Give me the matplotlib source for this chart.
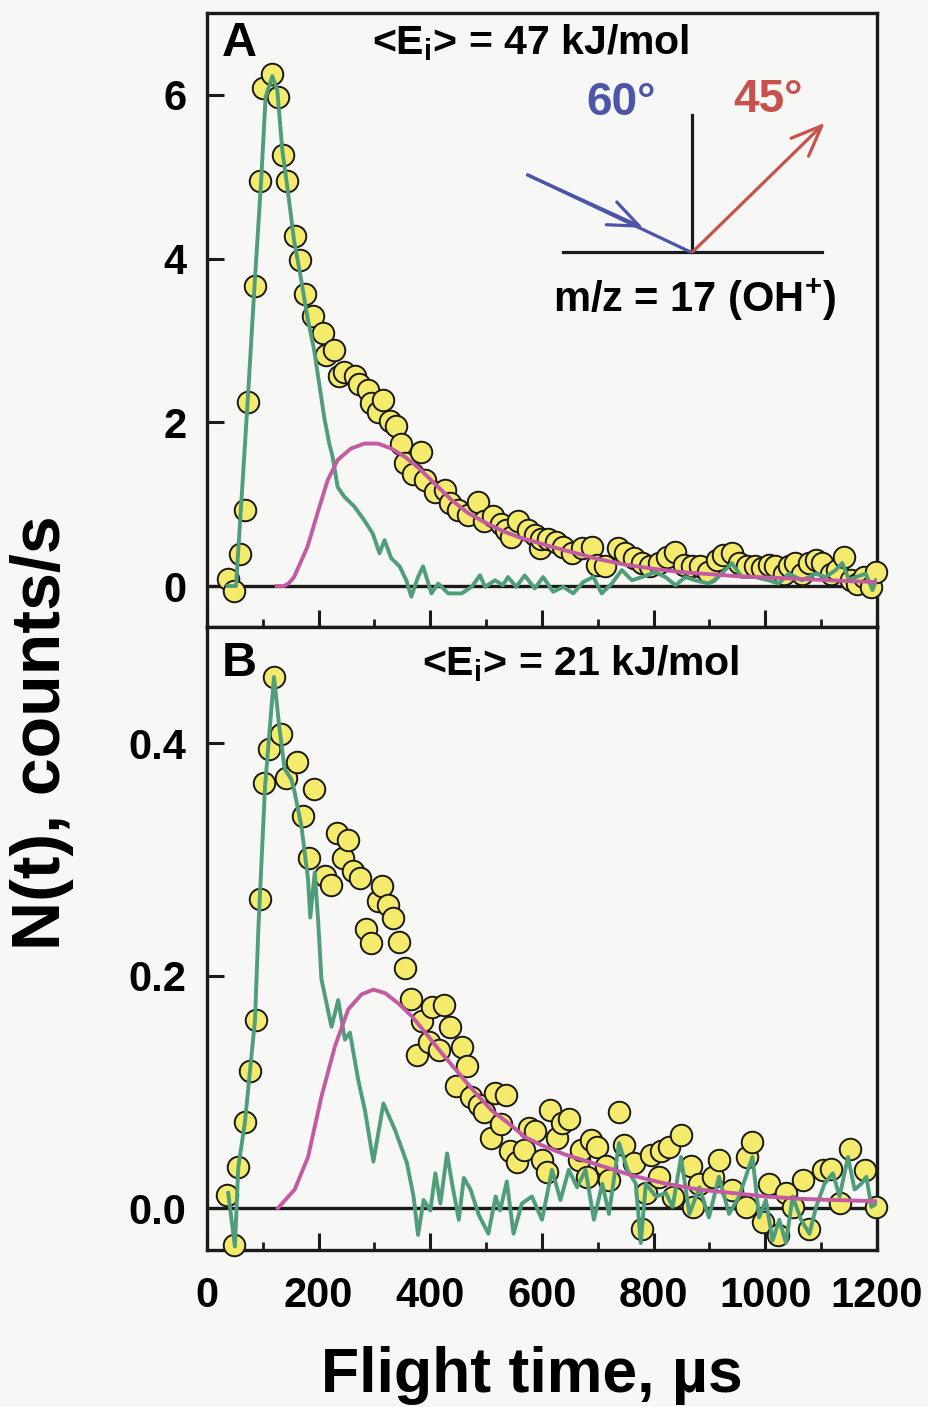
import numpy as np
import matplotlib
matplotlib.use("Agg")
import matplotlib.pyplot as plt
from matplotlib.ticker import MultipleLocator, FixedLocator

plt.rcParams['font.family'] = ['Liberation Sans', 'DejaVu Sans']
plt.rcParams['font.weight'] = 'bold'
plt.rcParams['mathtext.fontset'] = 'custom'
plt.rcParams['mathtext.rm'] = 'Liberation Sans:bold'
plt.rcParams['mathtext.it'] = 'Liberation Sans:bold'
plt.rcParams['mathtext.bf'] = 'Liberation Sans:bold'

# ---------------- Panel A : <Ei> = 47 kJ/mol ----------------
a_t = [37, 49, 59, 68, 74, 86, 95, 101, 117, 128, 137, 144, 158, 167, 176, 189,
       207, 213, 227, 237, 246, 265, 273, 288, 294, 306, 315, 327, 339, 348, 355,
       369, 384, 390, 408, 426, 435, 450, 468, 486, 497, 513, 527, 536, 545, 557,
       575, 587, 596, 599, 611, 626, 638, 653, 671, 689, 698, 713, 737, 749, 764,
       779, 794, 809, 824, 839, 854, 869, 883, 898, 913, 925, 940, 952, 967, 982,
       994, 1006, 1018, 1033, 1042, 1054, 1066, 1078, 1090, 1102, 1117, 1129,
       1141, 1153, 1165, 1177, 1189, 1198]
a_n = [0.08, -0.06, 0.39, 0.93, 2.25, 3.66, 4.95, 6.08, 6.25, 5.97, 5.26, 4.95,
       4.28, 3.98, 3.57, 3.30, 3.09, 2.82, 2.88, 2.57, 2.61, 2.57, 2.47, 2.39,
       2.23, 2.13, 2.27, 2.02, 1.96, 1.74, 1.50, 1.37, 1.64, 1.29, 1.15, 1.17,
       1.01, 0.93, 0.87, 1.03, 0.80, 0.85, 0.76, 0.68, 0.60, 0.80, 0.68, 0.62,
       0.46, 0.58, 0.58, 0.54, 0.48, 0.40, 0.46, 0.48, 0.26, 0.24, 0.46, 0.40,
       0.34, 0.28, 0.24, 0.28, 0.36, 0.42, 0.26, 0.24, 0.24, 0.17, 0.32, 0.38,
       0.40, 0.28, 0.24, 0.24, 0.22, 0.26, 0.24, 0.15, 0.24, 0.28, 0.15, 0.28,
       0.32, 0.28, 0.15, 0.20, 0.36, 0.07, 0.03, 0.11, -0.01, 0.17]

a_green_t = [37, 52, 73, 85, 97, 105, 117, 126, 135, 144, 156, 168, 180, 192,
             201, 210, 219, 225, 234, 246, 264, 282, 297, 309, 318, 330, 345,
             357, 366, 378, 387, 402, 414, 432, 456, 474, 489, 498, 516, 530,
             539, 554, 569, 587, 602, 620, 638, 656, 674, 692, 707, 725, 743,
             761, 779, 803, 821, 839, 857, 874, 899, 916, 940, 958, 982, 1006,
             1024, 1042, 1066, 1090, 1108, 1126, 1138, 1150, 1162, 1180, 1192, 1198]
a_green_n = [0.0, 0.0, 2.27, 3.65, 4.95, 5.97, 6.23, 6.05, 5.32, 4.87, 4.22,
             3.77, 3.28, 2.88, 2.47, 2.06, 1.74, 1.58, 1.21, 1.09, 0.97, 0.80,
             0.64, 0.40, 0.56, 0.34, 0.24, 0.07, -0.13, 0.11, 0.24, -0.09, 0.03,
             -0.09, -0.09, -0.01, 0.13, -0.01, 0.07, 0.01, 0.11, -0.01, 0.13,
             -0.03, 0.11, -0.07, -0.01, -0.09, 0.05, 0.11, -0.09, 0.03, 0.195,
             0.07, 0.11, 0.17, 0.11, 0.01, 0.11, 0.07, 0.03, 0.11, 0.28, 0.11,
             0.11, 0.07, 0.03, 0.15, 0.07, 0.15, 0.11, 0.195, 0.28, 0.07, 0.11,
             0.15, -0.05, 0.07]

a_fit_t = [125, 138, 146, 156, 180, 198, 216, 234, 258, 282, 306, 330, 354,
           378, 408, 438, 468, 497, 527, 557, 587, 617, 650, 700, 750, 800,
           850, 900, 950, 1000, 1050, 1100, 1150, 1198]
a_fit_n = [0.0, 0.0, 0.03, 0.11, 0.48, 0.89, 1.29, 1.54, 1.68, 1.74, 1.74,
           1.68, 1.58, 1.45, 1.25, 1.05, 0.89, 0.78, 0.68, 0.60, 0.54, 0.48,
           0.42, 0.33, 0.26, 0.21, 0.17, 0.145, 0.12, 0.105, 0.09, 0.075, 0.06, 0.05]

# ---------------- Panel B : <Ei> = 21 kJ/mol ----------------
b_t = [36, 48, 56, 68, 77, 87, 95, 102, 111, 120, 133, 142, 162, 172, 183, 192,
       211, 223, 232, 243, 253, 262, 274, 285, 294, 306, 313, 324, 334, 344,
       355, 366, 376, 386, 397, 403, 416, 424, 436, 446, 457, 466, 473, 487,
       496, 508, 515, 527, 536, 543, 556, 567, 577, 588, 600, 609, 615, 627,
       636, 648, 666, 669, 681, 687, 699, 714, 720, 738, 747, 765, 780, 786,
       795, 810, 813, 828, 834, 849, 867, 870, 882, 906, 917, 941, 965, 968,
       977, 995, 1007, 1022, 1037, 1049, 1067, 1079, 1103, 1118, 1133, 1151,
       1178, 1199]
b_n = [0.011, -0.032, 0.035, 0.074, 0.118, 0.162, 0.266, 0.366, 0.395, 0.457,
       0.408, 0.370, 0.384, 0.337, 0.301, 0.361, 0.286, 0.278, 0.323, 0.301,
       0.317, 0.290, 0.284, 0.240, 0.228, 0.264, 0.277, 0.261, 0.250, 0.229,
       0.207, 0.180, 0.132, 0.161, 0.143, 0.173, 0.136, 0.175, 0.156, 0.105,
       0.139, 0.122, 0.096, 0.089, 0.083, 0.060, 0.099, 0.072, 0.097, 0.049,
       0.040, 0.050, 0.069, 0.066, 0.041, 0.031, 0.084, 0.060, 0.073, 0.077,
       0.041, 0.050, 0.027, 0.059, 0.053, 0.036, 0.024, 0.083, 0.054, 0.039,
       -0.018, 0.013, 0.046, 0.027, 0.049, 0.053, 0.010, 0.063, 0.036, 0.001,
       0.021, 0.027, 0.041, 0.016, 0.001, 0.044, 0.057, -0.012, 0.021, -0.023,
       0.013, 0.001, 0.024, -0.018, 0.033, 0.034, 0.004, 0.051, 0.033, 0.001]

b_green_t = [38, 50, 56, 68, 86, 92, 104, 120, 130, 139, 151, 156, 169, 181,
             185, 193, 199, 205, 223, 235, 247, 256, 271, 283, 298, 316, 337,
             358, 370, 378, 388, 400, 409, 418, 430, 439, 451, 460, 472, 487,
             504, 517, 525, 537, 549, 564, 582, 600, 618, 633, 648, 663, 678,
             693, 708, 720, 738, 753, 768, 777, 786, 804, 822, 834, 849, 864,
             882, 899, 917, 935, 953, 977, 989, 1001, 1013, 1025, 1037, 1049,
             1064, 1079, 1091, 1106, 1121, 1133, 1148, 1160, 1172, 1181, 1190, 1199]
b_green_n = [0.013, -0.033, 0.035, 0.074, 0.162, 0.24, 0.363, 0.457, 0.412,
             0.378, 0.369, 0.36, 0.329, 0.283, 0.25, 0.289, 0.248, 0.197, 0.156,
             0.179, 0.145, 0.151, 0.110, 0.084, 0.040, 0.090, 0.067, 0.039,
             0.010, -0.023, 0.007, -0.002, 0.030, 0.004, 0.047, 0.021, -0.010,
             0.026, 0.016, -0.006, -0.022, 0.010, -0.002, 0.023, -0.022, 0.004,
             0.010, -0.010, 0.033, 0.007, 0.033, 0.018, 0.033, -0.010, 0.021,
             -0.005, 0.056, 0.033, 0.021, -0.030, 0.021, 0.010, 0.013, 0.001,
             0.044, -0.005, 0.018, -0.008, 0.027, -0.005, 0.010, 0.044, -0.008,
             0.007, -0.028, -0.010, -0.030, 0.010, -0.010, -0.022, 0.001, 0.021,
             0.030, 0.010, 0.044, 0.016, 0.021, 0.027, 0.001, 0.004]

b_fit_t = [127, 157, 181, 205, 229, 253, 277, 298, 319, 343, 367, 391, 421,
           451, 481, 510, 540, 570, 600, 642, 702, 762, 822, 881, 941, 1001,
           1061, 1121, 1199]
b_fit_n = [0.0, 0.016, 0.044, 0.096, 0.139, 0.171, 0.184, 0.188, 0.185, 0.176,
           0.165, 0.151, 0.133, 0.116, 0.099, 0.084, 0.073, 0.061, 0.054, 0.046,
           0.037, 0.028, 0.021, 0.016, 0.013, 0.010, 0.008, 0.007, 0.006]

x_ticks = [0, 200, 400, 600, 800, 1000, 1200]
a_yticks = [0, 2, 4, 6]
a_yticklabels = ['0', '2', '4', '6']
b_yticks = [0.0, 0.2, 0.4]
b_yticklabels = ['0.0', '0.2', '0.4']

# ---------------- styling ----------------
BG = '#f7f7f5'
YELLOW = '#f4ea6c'
GREEN = '#4f9e79'
MAGENTA = '#c45aa2'
BLUE = '#4d55a8'
RED = '#c8524b'
INK = '#1a1a1a'
TICK_FS = 30

fig = plt.figure(figsize=(9.29, 14.07), dpi=100, facecolor=BG)
axA = fig.add_axes([0.2228, 0.5544, 0.7212, 0.4364])
axB = fig.add_axes([0.2228, 0.1116, 0.7212, 0.4428])


def style(ax, ylim, yticks, yticklabels, show_x):
    ax.set_facecolor(BG)
    ax.set_xlim(0, 1200)
    ax.set_ylim(*ylim)
    for s in ax.spines.values():
        s.set_linewidth(2.4)
        s.set_color(INK)
    ax.xaxis.set_major_locator(FixedLocator(x_ticks))
    ax.xaxis.set_minor_locator(MultipleLocator(100))
    ax.set_yticks(yticks)
    ax.set_yticklabels(yticklabels)
    ax.tick_params(axis='both', which='major', direction='in', length=12,
                   width=2.2, labelsize=TICK_FS, color=INK)
    ax.tick_params(axis='x', which='minor', direction='in', length=6,
                   width=2.0, color=INK)
    ax.tick_params(axis='x', which='both', top=False, bottom=True)
    ax.tick_params(axis='y', which='both', right=False, pad=15)
    ax.tick_params(axis='x', pad=19)
    if show_x:
        ax.set_xticklabels([str(v) for v in x_ticks])
    else:
        ax.tick_params(axis='x', labelbottom=False)
    for lab in ax.get_xticklabels() + ax.get_yticklabels():
        lab.set_fontweight('bold')
    ax.axhline(0, color=INK, lw=2.4, zorder=2)


style(axA, (-0.5, 7.0), a_yticks, a_yticklabels, False)
style(axB, (-0.036, 0.5), b_yticks, b_yticklabels, True)

for ax, t, n, gt, gn, ft, fn in [
        (axA, a_t, a_n, a_green_t, a_green_n, a_fit_t, a_fit_n),
        (axB, b_t, b_n, b_green_t, b_green_n, b_fit_t, b_fit_n)]:
    ax.plot(t, n, 'o', ms=15.5, mfc=YELLOW, mec=INK, mew=1.4,
            ls='none', zorder=3, clip_on=False)
    ax.plot(gt, gn, color=GREEN, lw=2.8, zorder=4)
    ax.plot(ft, fn, color=MAGENTA, lw=2.8, zorder=5)

# ---------------- annotations panel A ----------------
axA.text(0.022, 0.951, 'A', transform=axA.transAxes, fontsize=35,
         fontweight='bold', ha='left', va='center')
axA.text(0.246, 0.932, r'<E$_{\mathrm{i}}$> = 47 kJ/mol', transform=axA.transAxes,
         fontsize=29.5, fontweight='bold', ha='left', va='baseline')
axA.text(0.618, 0.853, '60°', transform=axA.transAxes, fontsize=33,
         fontweight='bold', color=BLUE, ha='center', va='center')
axA.text(0.838, 0.858, '45°', transform=axA.transAxes, fontsize=33,
         fontweight='bold', color=RED, ha='center', va='center')
axA.text(0.728, 0.533, r'm/z = 17 (OH$^{+}$)', transform=axA.transAxes,
         fontsize=30, fontweight='bold', ha='center', va='center')

# surface diagram
axA.plot([0.531, 0.918], [0.611, 0.611], color=INK, lw=2.3,
         transform=axA.transAxes, zorder=6)
axA.plot([0.724, 0.724], [0.611, 0.834], color=INK, lw=2.3,
         transform=axA.transAxes, zorder=6)
axA.plot([0.479, 0.721], [0.736, 0.611], color=BLUE, lw=2.3,
         transform=axA.transAxes, zorder=6)
axA.annotate('', xy=(0.651, 0.650), xytext=(0.479, 0.736),
             xycoords='axes fraction', textcoords='axes fraction',
             arrowprops=dict(arrowstyle='->,head_length=1.1,head_width=0.45',
                             color=BLUE, lw=2.3, shrinkA=0, shrinkB=0,
                             mutation_scale=20), zorder=6)
axA.annotate('', xy=(0.922, 0.821), xytext=(0.725, 0.611),
             xycoords='axes fraction', textcoords='axes fraction',
             arrowprops=dict(arrowstyle='->,head_length=1.1,head_width=0.45',
                             color=RED, lw=2.3, shrinkA=0, shrinkB=0,
                             mutation_scale=20), zorder=6)

# ---------------- annotations panel B ----------------
axB.text(0.022, 0.942, 'B', transform=axB.transAxes, fontsize=35,
         fontweight='bold', ha='left', va='center')
axB.text(0.321, 0.923, r'<E$_{\mathrm{i}}$> = 21 kJ/mol', transform=axB.transAxes,
         fontsize=29.5, fontweight='bold', ha='left', va='baseline')

# axis labels
fig.text(0.045, 0.479, 'N(t), counts/s', rotation=90, fontsize=49,
         fontweight='bold', ha='center', va='center')
fig.text(0.573, 0.0107, 'Flight time, µs', fontsize=45, fontweight='bold',
         ha='center', va='baseline')

fig.savefig('out.png', dpi=100, facecolor=BG)
